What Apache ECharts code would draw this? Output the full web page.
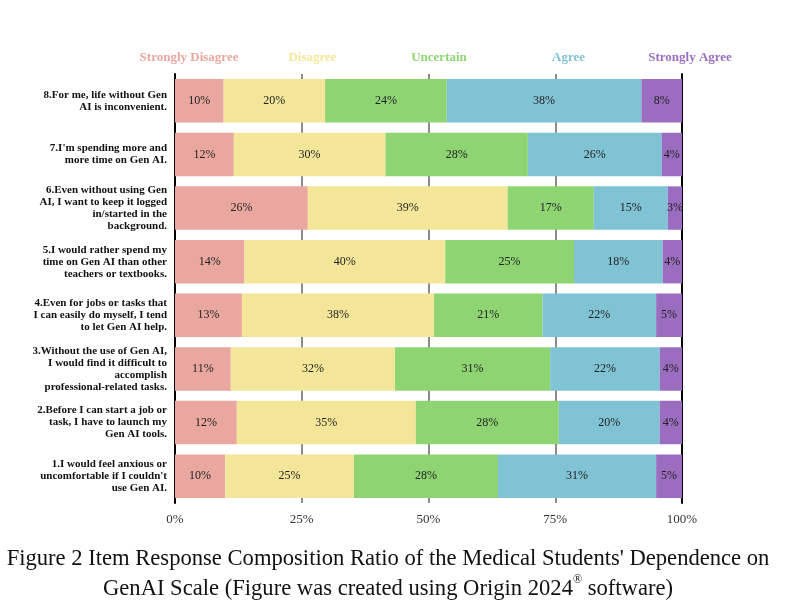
<!DOCTYPE html>
<html>
<head>
<meta charset="utf-8">
<script src="https://cdn.jsdelivr.net/npm/echarts@6/dist/echarts.min.js"></script>
<style>
  html, body { margin: 0; padding: 0; background: #fff; }
  #chart { width: 800px; height: 614px; }
</style>
</head>
<body>
<div id="chart"></div>
<script>
// items, bottom to top
const items = [
  '1.I would feel anxious or\nuncomfortable if I couldn\'t\nuse Gen AI.',
  '2.Before I can start a job or\ntask, I have to launch my\nGen AI tools.',
  '3.Without the use of Gen AI,\nI would find it difficult to\naccomplish\nprofessional-related tasks.',
  '4.Even for jobs or tasks that\nI can easily do myself, I tend\nto let Gen AI help.',
  '5.I would rather spend my\ntime on Gen AI than other\nteachers or textbooks.',
  '6.Even without using Gen\nAI, I want to keep it logged\nin/started in the\nbackground.',
  '7.I\'m spending more and\nmore time on Gen AI.',
  '8.For me, life without Gen\nAI is inconvenient.'
]

const levels = ['Strongly Disagree', 'Disagree', 'Uncertain', 'Agree', 'Strongly Agree']

// percent per item
const stronglyDisagree = [9.9, 12.2, 11.0, 13.2, 13.7, 26.2, 11.6, 9.6]
const disagree = [25.4, 35.3, 32.4, 37.9, 39.6, 39.4, 29.9, 20.0]
const uncertain = [28.4, 28.2, 30.6, 21.4, 25.4, 17.0, 28.1, 24.0]
const agree = [31.2, 19.9, 21.6, 22.4, 17.5, 14.6, 26.4, 38.4]
const stronglyAgree = [5.1, 4.4, 4.4, 5.1, 3.8, 2.8, 4.0, 8.0]

const xTicks = [0, 25, 50, 75, 100]

const colors = ['#e9a79f', '#f4e699', '#8fd473', '#80c3d4', '#9a6dc0']
const legendCenters = [184, 304, 430, 558, 683]
const serif = "'Liberation Serif', 'Times New Roman', serif"

const chart = echarts.init(document.getElementById('chart'))

const seriesData = [stronglyDisagree, disagree, uncertain, agree, stronglyAgree]

const series = levels.map((name, i) => ({
  name,
  type: 'bar',
  stack: 'total',
  data: seriesData[i],
  barWidth: '81%',
  itemStyle: { color: colors[i] },
  label: {
    show: true,
    position: 'inside',
    color: '#222',
    fontFamily: serif,
    fontSize: 12,
    formatter: (p) => Math.round(p.value) + '%'
  }
}))

// one legend per level so each text sits over its own spot
const legends = levels.map((name, i) => ({
  data: [{ name, textStyle: { color: colors[i] } }],
  left: legendCenters[i] - name.length * 3.2,
  top: 46,
  itemWidth: 0,
  itemHeight: 0,
  selectedMode: false,
  textStyle: { fontFamily: serif, fontSize: 13, fontWeight: 'bold' }
}))

const option = {
  animation: false,
  title: {
    text: 'Figure 2 Item Response Composition Ratio of the Medical Students\' Dependence on\nGenAI Scale (Figure was created using Origin 2024{sup|®} software)',
    left: 383,
    textAlign: 'center',
    top: 539,
    textStyle: {
      fontFamily: serif,
      fontSize: 22.6,
      fontWeight: 'normal',
      color: '#111',
      lineHeight: 30,
      align: 'center',
      rich: {
        sup: { fontFamily: serif, fontSize: 12, verticalAlign: 'top', padding: [0, 0, 10, 0], color: '#111' }
      }
    }
  },
  legend: legends,
  grid: { left: 175, right: 118, top: 74, bottom: 111 },
  xAxis: {
    type: 'value',
    min: 0,
    max: 100,
    interval: 25,
    axisLine: { show: false },
    axisTick: { show: false },
    axisLabel: {
      margin: 10,
      fontFamily: serif,
      fontSize: 13,
      color: '#333',
      formatter: (v) => (xTicks.includes(v) ? v + '%' : '')
    },
    splitLine: { show: true, lineStyle: { color: '#666', width: 1.5 } }
  },
  yAxis: [
    {
      type: 'category',
      data: items,
      axisLine: { show: true, lineStyle: { color: '#000', width: 2 } },
      axisTick: { show: false },
      axisLabel: {
        margin: 8,
        fontFamily: serif,
        fontSize: 11,
        fontWeight: 'bold',
        lineHeight: 12,
        color: '#111'
      }
    },
    {
      type: 'category',
      data: items,
      position: 'right',
      axisLine: { show: true, lineStyle: { color: '#000', width: 2 } },
      axisTick: { show: false },
      axisLabel: { show: false }
    }
  ],
  series
}

chart.setOption(option)
</script>
</body>
</html>
